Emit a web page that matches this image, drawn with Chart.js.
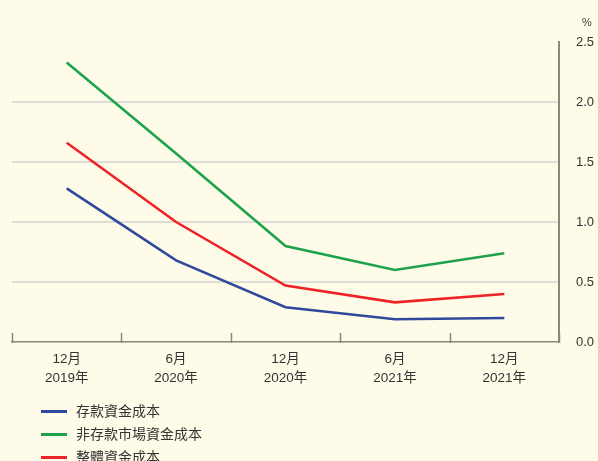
<!DOCTYPE html>
<html>
<head>
<meta charset="utf-8">
<script src="https://cdn.jsdelivr.net/npm/chart.js@4"></script>
<style>
  html, body { margin: 0; padding: 0; background: #fffbe9; }
  #wrap { position: relative; width: 598px; height: 461px; overflow: hidden; background: #fffbe9; }
  canvas { position: absolute; left: 0; top: 0; }
  .unit { position: absolute; left: 582px; top: 16px; font: 11px/13px "Liberation Sans", "Noto Sans CJK TC", sans-serif; color: #444; }
  .legend { position: absolute; left: 41px; top: 400px; font: 14px "Liberation Sans", "Noto Sans CJK TC", sans-serif; color: #333; }
  .legend div { height: 23px; line-height: 23px; white-space: nowrap; }
  .legend span.sw { display: inline-block; width: 26px; height: 3px; vertical-align: middle; margin-right: 9px; position: relative; top: -1px; }
</style>
</head>
<body>
<div id="wrap">
  <canvas id="c" width="598" height="461"></canvas>
  <div class="unit">%</div>
  <div class="legend" id="legend"></div>
</div>
<script>
// Period labels (month / year)
const periods = [
  ["12月", "2019年"],
  ["6月", "2020年"],
  ["12月", "2020年"],
  ["6月", "2021年"],
  ["12月", "2021年"]
];

// Funding cost series, percent
const depositCost = [1.28, 0.68, 0.29, 0.19, 0.20];
const nonDepositCost = [2.33, 1.57, 0.80, 0.60, 0.74];
const overallCost = [1.66, 1.00, 0.47, 0.33, 0.40];

const seriesNames = ["存款資金成本", "非存款市場資金成本", "整體資金成本"];
const seriesColors = ["#2f4a9c", "#1ea24c", "#ee2326"];

const yTicks = [0, 0.5, 1.0, 1.5, 2.0, 2.5];

const baseFont = '"Liberation Sans", "Noto Sans CJK TC", sans-serif';

// Small upward tick marks on the category axis, between periods
const categoryTicks = {
  id: 'categoryTicks',
  afterDraw(chart) {
    const x = chart.scales.x;
    const ctx = chart.ctx;
    ctx.save();
    ctx.strokeStyle = '#8a877c';
    ctx.lineWidth = 1.5;
    for (let i = 0; i <= periods.length; i++) {
      const px = Math.round(x.getPixelForValue(i - 0.5)) + 0.5;
      ctx.beginPath();
      ctx.moveTo(px, x.top + 1);
      ctx.lineTo(px, x.top - 9);
      ctx.stroke();
    }
    ctx.restore();
  }
};

const datasets = [depositCost, nonDepositCost, overallCost].map((d, i) => ({
  label: seriesNames[i],
  data: d,
  borderColor: seriesColors[i],
  backgroundColor: seriesColors[i],
  borderWidth: 2.6,
  pointRadius: 0,
  tension: 0,
  fill: false
}));

new Chart(document.getElementById('c'), {
  type: 'line',
  data: { labels: periods, datasets },
  options: {
    responsive: false,
    animation: false,
    layout: { padding: { left: 12, top: 42, right: 0, bottom: 0 } },
    plugins: { legend: { display: false }, tooltip: { enabled: false } },
    scales: {
      x: {
        offset: true,
        grid: { display: false, drawTicks: false },
        border: { display: true, color: '#8a877c', width: 1.5 },
        ticks: {
          color: '#333',
          font: { family: baseFont, size: 13.5, lineHeight: 1.42 },
          padding: 8,
          maxRotation: 0,
          autoSkip: false
        },
        afterFit(s) { s.height = 461 - 342; }
      },
      y: {
        position: 'right',
        min: 0,
        max: 2.5,
        afterBuildTicks(s) { s.ticks = yTicks.map(v => ({ value: v })); },
        grid: {
          drawTicks: false,
          lineWidth: 2,
          color: (c) => (c.tick && (c.tick.value === 0 || c.tick.value === 2.5)) ? 'rgba(0,0,0,0)' : '#dedcd6'
        },
        border: { display: true, color: '#8a877c', width: 2 },
        ticks: {
          color: '#333',
          font: { family: baseFont, size: 13 },
          padding: 17,
          callback: (v) => Number(v).toFixed(1)
        },
        afterFit(s) { s.width = 598 - 559; }
      }
    }
  },
  plugins: [categoryTicks]
});

// Legend rows
const legend = document.getElementById('legend');
seriesNames.forEach((name, i) => {
  const row = document.createElement('div');
  const sw = document.createElement('span');
  sw.className = 'sw';
  sw.style.background = seriesColors[i];
  row.appendChild(sw);
  row.appendChild(document.createTextNode(name));
  legend.appendChild(row);
});
</script>
</body>
</html>
